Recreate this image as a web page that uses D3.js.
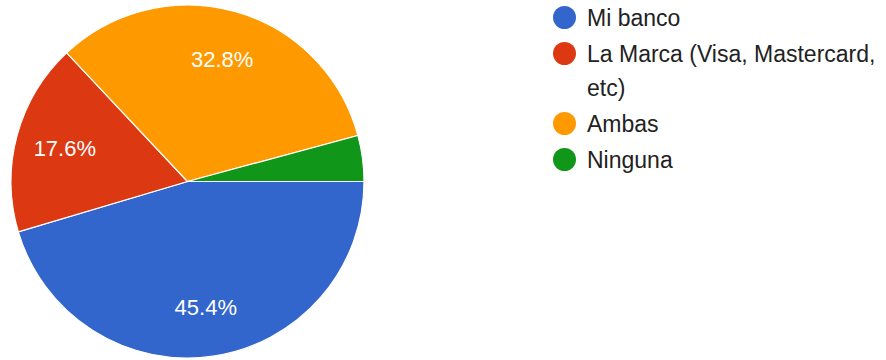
<!DOCTYPE html>
<html>
<head>
<meta charset="utf-8">
<script src="https://cdn.jsdelivr.net/npm/d3@7"></script>
<style>
  body { margin: 0; background: #fff; }
  svg { display: block; font-family: "Liberation Sans", Arial, sans-serif; }
</style>
</head>
<body>
<div id="chart"></div>
<script>
// Data
const categories = ["Mi banco", "La Marca (Visa, Mastercard, etc)", "Ambas", "Ninguna"];
const values = [45.4, 17.6, 32.8, 4.2];
const colors = ["#3366cc", "#dc3912", "#ff9900", "#109618"];

const width = 886, height = 360;
const cx = 187.5, cy = 181.5, radius = 176.5;

const svg = d3.select("#chart").append("svg")
    .attr("width", width)
    .attr("height", height);

const data = categories.map((c, i) => ({ name: c, value: values[i], color: colors[i] }));

// Pie starts at 3 o'clock, going clockwise
const pie = d3.pie()
    .value(d => d.value)
    .sort(null)
    .startAngle(Math.PI / 2)
    .endAngle(Math.PI / 2 + 2 * Math.PI);

const arc = d3.arc().innerRadius(0).outerRadius(radius);
const labelArc = d3.arc().innerRadius(radius * 0.72).outerRadius(radius * 0.72);

const g = svg.append("g").attr("transform", `translate(${cx},${cy})`);

const arcs = pie(data);

g.selectAll("path")
    .data(arcs)
    .enter().append("path")
    .attr("d", arc)
    .attr("fill", d => d.data.color)
    .attr("stroke", "#fff")
    .attr("stroke-width", 1.2);

// Percent labels (skip small slices)
g.selectAll(".slice-label")
    .data(arcs.filter(d => d.data.value >= 10))
    .enter().append("text")
    .attr("class", "slice-label")
    .attr("transform", d => `translate(${labelArc.centroid(d)})`)
    .attr("text-anchor", "middle")
    .attr("dy", "0.36em")
    .attr("fill", "#fff")
    .style("font-size", "22px")
    .text(d => d.data.value.toFixed(1) + "%");

// Legend
const legendX = 564.5, textX = 587, firstY = 17.5;
const lineHeight = 34, itemStep = 36, maxTextWidth = width - textX - 4;

const legend = svg.append("g");
let y = firstY;
data.forEach(d => {
    legend.append("circle")
        .attr("cx", legendX)
        .attr("cy", y)
        .attr("r", 11.5)
        .attr("fill", d.color);

    const text = legend.append("text")
        .attr("x", textX)
        .attr("y", y)
        .attr("dy", "0.36em")
        .attr("fill", "#222")
        .style("font-size", "23px");

    // wrap words
    const words = d.name.split(" ");
    let line = [];
    let lineNo = 0;
    let tspan = text.append("tspan").attr("x", textX);
    words.forEach(w => {
        line.push(w);
        tspan.text(line.join(" "));
        if (tspan.node().getComputedTextLength() > maxTextWidth && line.length > 1) {
            line.pop();
            tspan.text(line.join(" "));
            line = [w];
            lineNo++;
            tspan = text.append("tspan")
                .attr("x", textX)
                .attr("dy", lineHeight)
                .text(w);
        }
    });
    y += itemStep + lineNo * lineHeight;
});
</script>
</body>
</html>
